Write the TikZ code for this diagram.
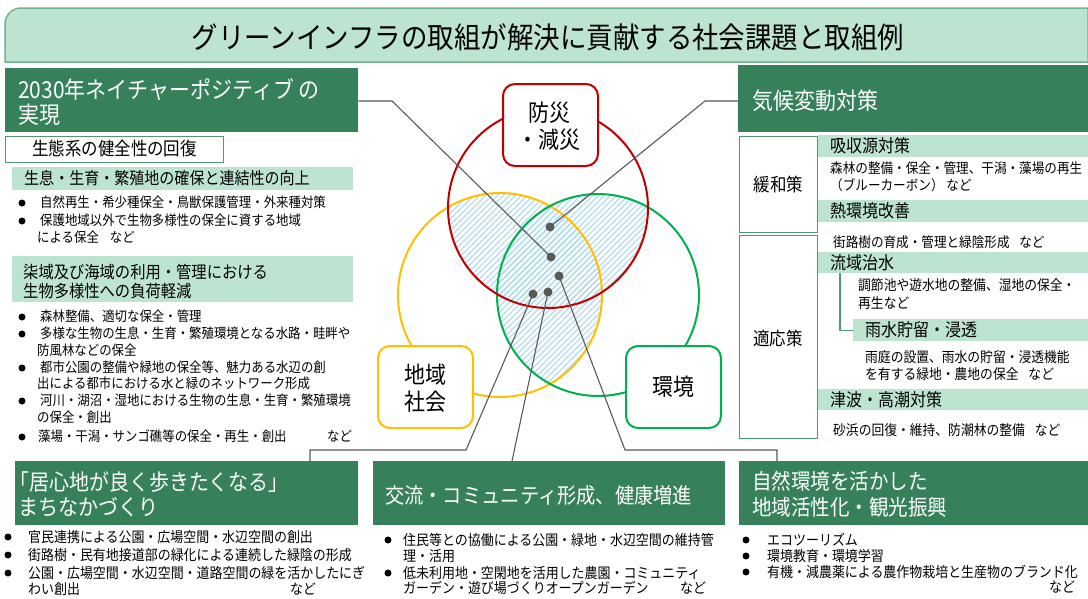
\documentclass[tikz,border=0pt]{standalone}
\usepackage{fontspec}
\setmainfont{Noto Sans CJK JP}[FakeStretch=0.9]
\usetikzlibrary{patterns.meta}
\definecolor{dkgreen}{HTML}{36815A}
\definecolor{ltgreen}{HTML}{BCE4D0}
\definecolor{bxborder}{HTML}{4E9A6C}
\definecolor{titleborder}{HTML}{72B48C}
\definecolor{vred}{HTML}{C00000}
\definecolor{vyellow}{HTML}{FFC000}
\definecolor{vgreen}{HTML}{00B050}
\definecolor{lgray}{HTML}{595959}
\definecolor{hatchc}{HTML}{B9DEEB}
\newcounter{tn}
\newcommand\tx[5][]{\stepcounter{tn}\node[txt,#1,font=\fontsize{#4}{#4}\selectfont] (t\arabic{tn}) at ({#2},{#3+0.36*#4}) {#5};}
\newcommand\bx[6][]{\node[inner sep=0,anchor=north west,minimum width={#5-#3},minimum height={#6-#4},#1] (#2) at (#3,#4) {};}
\newcommand\bul[2]{\fill[black] (#1,#2) circle (3.5);}
\begin{document}
\begin{tikzpicture}[x=1pt,y=-1pt,
  txt/.style={anchor=base west,inner sep=0},
  dark/.style={fill=dkgreen},
  light/.style={fill=ltgreen},
  wbox/.style={fill=white,draw=bxborder,line width=1.2},
  hatch/.style={pattern={Lines[angle=45,distance=4.2pt,line width=1.4pt]},pattern color=hatchc},
  conn/.style={draw=lgray,line width=1.1},
  dot/.style={circle,fill=lgray,inner sep=0,minimum size=9},
  vbox/.style={fill=white,rounded corners=12,line width=2}]
\useasboundingbox (0,0) rectangle (1088,598);
% title bar
\draw[fill=ltgreen,draw=titleborder,line width=1.5] (5,62) -- (5,24) arc[start angle=180,end angle=270,radius=16] -- (1088,8) -- (1088,62) -- cycle;
\node[font=\fontsize{29.4}{29.4}\selectfont,inner sep=0] (title) at (548,37) {グリーンインフラの取組が解決に貢献する社会課題と取組例};

% ===== Venn =====
\coordinate (R) at (548,208);
\coordinate (Y) at (500,295);
\coordinate (G) at (598,295);
\begin{scope}
  \clip (R) circle (100);
  \fill[hatch] (Y) circle (102);
  \fill[hatch] (G) circle (101);
\end{scope}
\begin{scope}
  \clip (Y) circle (102);
  \fill[hatch] (G) circle (101);
\end{scope}
\draw[vyellow,line width=2] (Y) circle (102);
\draw[vgreen,line width=2] (G) circle (101);
\draw[vred,line width=2] (R) circle (100);

% left column
\bx[dark]{n2030}{5}{68}{358}{132}
\tx[text=white]{18}{90}{23.3}{2030年ネイチャーポジティブ の}
\tx[text=white]{18}{115}{23.3}{実現}
\bx[wbox]{nseitai}{5}{136}{223}{162}
\tx{32}{149}{18.3}{生態系の健全性の回復}
\bx[light]{nseisoku}{12}{167}{353}{190}
\tx{24}{178}{16.7}{生息・生育・繁殖地の確保と連結性の向上}
\bul{22}{203}\tx{40}{203}{13.8}{自然再生・希少種保全・鳥獣保護管理・外来種対策}
\bul{22}{221}\tx{40}{221}{13.8}{保護地域以外で生物多様性の保全に資する地域}
\tx{37}{238}{13.8}{による保全\hspace{0.8em}など}
\bx[light]{nfuka}{12}{256}{353}{302}
\tx{23}{272}{17}{柒域及び海域の利用・管理における}
\tx{23}{291}{17}{生物多様性への負荷軽減}
\bul{22}{317}\tx{40}{317}{13.8}{森林整備、適切な保全・管理}
\bul{22}{334}\tx{40}{334}{13.8}{多様な生物の生息・生育・繁殖環境となる水路・畦畔や}
\tx{37}{351}{13.8}{防風林などの保全}
\bul{22}{368}\tx{40}{368}{13.8}{都市公園の整備や緑地の保全等、魅力ある水辺の創}
\tx{37}{384}{13.8}{出による都市における水と緑のネットワーク形成}
\bul{22}{401}\tx{40}{401}{13.8}{河川・湖沼・湿地における生物の生息・生育・繁殖環境}
\tx{37}{418}{13.8}{の保全・創出}
\bul{22}{437}\tx{38}{437}{13.8}{藻場・干潟・サンゴ礁等の保全・再生・創出}
\tx{327}{437}{13.8}{など}

% right column
\bx[dark]{nclim}{738}{65}{1088}{132}
\tx[text=white]{752}{101}{23.3}{気候変動対策}
\bx[wbox]{nkanwa}{739}{136}{817}{232}
\node[font=\fontsize{18.3}{18.3}\selectfont,inner sep=0] (lkanwa) at (nkanwa.center) {緩和策};
\bx[wbox]{ntekio}{739}{235}{817}{438}
\node[font=\fontsize{18.3}{18.3}\selectfont,inner sep=0] (ltekio) at (778,339) {適応策};
\bx[light]{nkyu}{818}{135}{1088}{157}
\tx{830}{146}{17.8}{吸収源対策}
\tx{830}{168}{14}{森林の整備・保全・管理、干潟・藻場の再生}
\tx{830}{185}{14}{（ブルーカーボン） など}
\bx[light]{nnetsu}{818}{200}{1088}{222}
\tx{830}{211}{17.8}{熱環境改善}
\tx{833}{242}{14}{街路樹の育成・管理と緑陰形成\hspace{0.7em}など}
\bx[light]{nryu}{818}{252}{1088}{273}
\tx{830}{263}{17.8}{流域治水}
\tx{858}{285}{14.2}{調節池や遊水地の整備、湿地の保全・}
\tx{858}{303}{14.2}{再生など}
\bx[light]{nusui}{853}{319}{1088}{341}
\tx{865}{330}{17.8}{雨水貯留・浸透}
\tx{865}{357}{14.2}{雨庭の設置、雨水の貯留・浸透機能}
\tx{865}{374}{14.2}{を有する緑地・農地の保全\hspace{0.7em}など}
\bx[light]{ntsunami}{818}{389}{1088}{410}
\tx{830}{400}{17.8}{津波・高潮対策}
\tx{833}{430}{14.2}{砂浜の回復・維持、防潮林の整備\hspace{0.7em}など}
\coordinate (kr) at (840,0);
\draw[bxborder,line width=1.2] (kr |- nryu.south) -- (kr |- nusui.west) -- (nusui.west);

% bottom boxes
\bx[dark]{nmachi}{15}{461}{358}{525}
\tx[text=white]{9}{482}{22.2}{「居心地が良く歩きたくなる」}
\tx[text=white]{18}{507}{22.2}{まちなかづくり}
\bul{8}{537}\tx{28}{537}{14.4}{官民連携による公園・広場空間・水辺空間の創出}
\bul{8}{555}\tx{28}{555}{14.4}{街路樹・民有地接道部の緑化による連続した緑陰の形成}
\bul{8}{573}\tx{28}{573}{14.4}{公園・広場空間・水辺空間・道路空間の緑を活かしたにぎ}
\tx{28}{589}{14.4}{わい創出}
\tx{290}{589}{14.4}{など}

\bx[dark]{nkoryu}{373}{461}{725}{525}
\tx[text=white]{385}{496}{21.4}{交流・コミュニティ形成、健康増進}
\bul{388}{540}\tx{403}{540}{14.4}{住民等との協働による公園・緑地・水辺空間の維持管}
\tx{403}{556}{14.4}{理・活用}
\bul{388}{573}\tx{403}{573}{14.4}{低未利用地・空閑地を活用した農園・コミュニティ}
\tx{403}{588}{14.4}{ガーデン・遊び場づくりオープンガーデン}
\tx{680}{588}{14.4}{など}

\bx[dark]{nchiiki}{739}{461}{1088}{525}
\tx[text=white]{752}{482}{21.7}{自然環境を活かした}
\tx[text=white]{752}{508}{21.7}{地域活性化・観光振興}
\bul{746}{540}\tx{767}{540}{14.4}{エコツーリズム}
\bul{746}{556}\tx{767}{556}{14.4}{環境教育・環境学習}
\bul{746}{572}\tx{767}{572}{14.4}{有機・減農薬による農作物栽培と生産物のブランド化}
\tx{1049}{587}{14.4}{など}

% dots
\node[dot] (d1) at (550,227) {};
\node[dot] (d2) at (551,257) {};
\node[dot] (d3) at (559,276) {};
\node[dot] (d4) at (533,294) {};
\node[dot] (d5) at (548,292) {};
\coordinate (k1) at (392,101);
\coordinate (k2) at (705,101);
\coordinate (k3) at (466,450);
\coordinate (k4) at (310,450);
\coordinate (k5) at (512,0);
\coordinate (k6) at (625,450);
\coordinate (k7) at (777,450);
\draw[conn] (n2030.east |- k1) -- (k1) -- (d2.center);
\draw[conn] (d1.center) -- (k2) -- (nclim.west |- k2);
\draw[conn] (d4.center) -- (k3) -- (k4) -- (k4 |- nmachi.north);
\draw[conn] (d5.center) -- (k5 |- nkoryu.north);
\draw[conn] (d3.center) -- (k6) -- (k7) -- (k7 |- nchiiki.north);

% venn label boxes
\node[vbox,draw=vred,inner sep=0,anchor=north west,minimum width=95,minimum height=82] (nbosai) at (502,83) {};
\tx{528}{113}{23.3}{防災}
\tx{517}{140}{23.3}{・減災}
\node[vbox,draw=vyellow,inner sep=0,anchor=north west,minimum width=95,minimum height=82] (nshakai) at (377,345) {};
\node[font=\fontsize{23.3}{23.3}\selectfont,inner sep=0] (lchi) at (425,375) {地域};
\node[font=\fontsize{23.3}{23.3}\selectfont,inner sep=0] (lsha) at (425,402) {社会};
\node[vbox,draw=vgreen,inner sep=0,anchor=north west,minimum width=95,minimum height=82] (nkankyo) at (625,345) {};
\node[font=\fontsize{23.3}{23.3}\selectfont,inner sep=0] (lkan) at (nkankyo.center) {環境};
\end{tikzpicture}
\end{document}
